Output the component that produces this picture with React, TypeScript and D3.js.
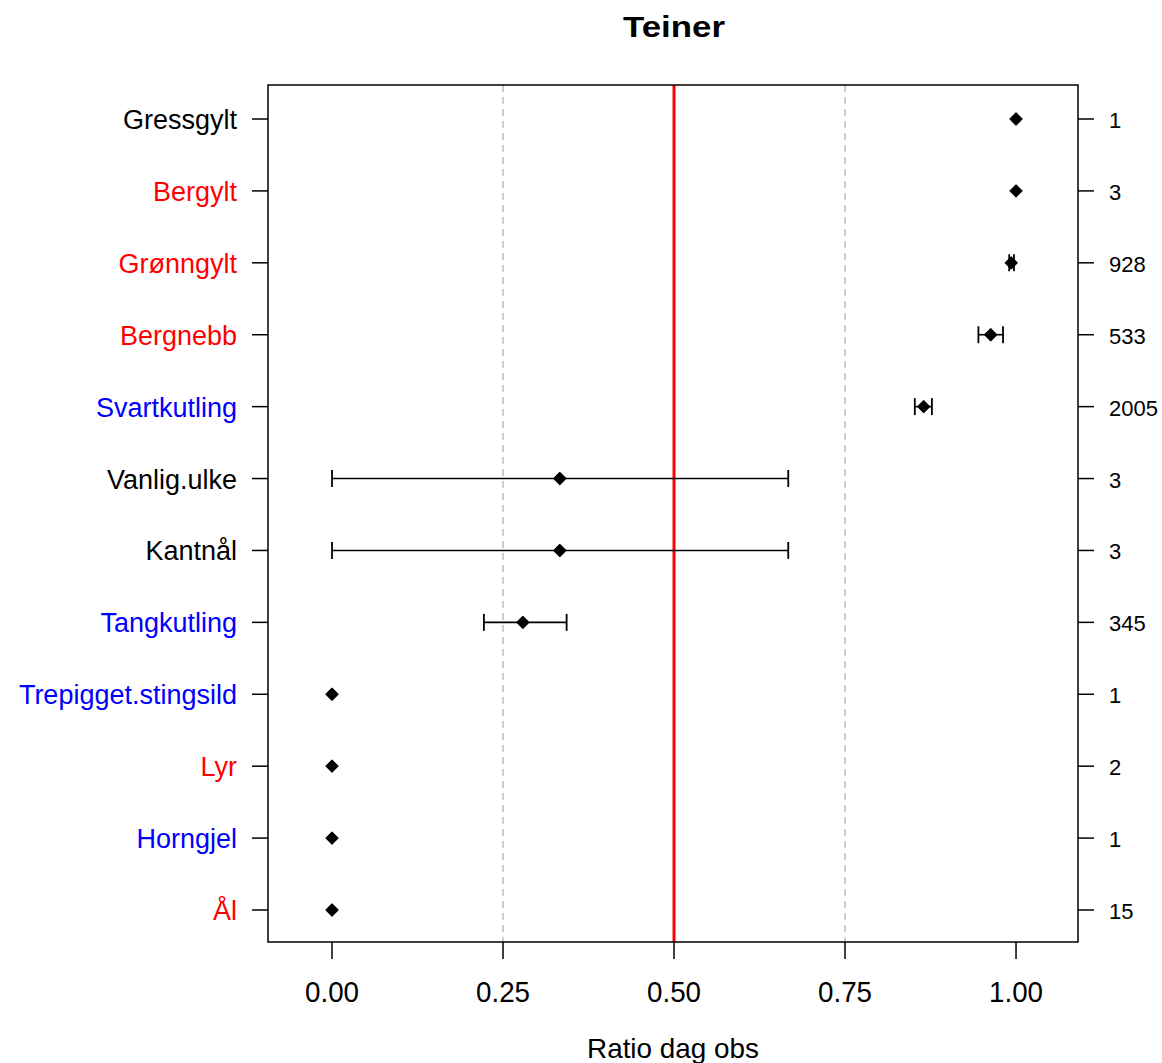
import { useEffect, useRef } from 'react';
import * as d3 from 'd3';

// species from top to bottom
const species = ['Gressgylt', 'Bergylt', 'Grønngylt', 'Bergnebb', 'Svartkutling', 'Vanlig.ulke', 'Kantnål', 'Tangkutling', 'Trepigget.stingsild', 'Lyr', 'Horngjel', 'Ål'];
const labelColors = ['black', 'red', 'red', 'red', 'blue', 'black', 'black', 'blue', 'blue', 'red', 'blue', 'red'];
const ratio = [1.0, 1.0, 0.993, 0.963, 0.865, 0.333, 0.333, 0.279, 0, 0, 0, 0];
const lower = [1.0, 1.0, 0.990, 0.945, 0.852, 0, 0, 0.222, 0, 0, 0, 0];
const upper = [1.0, 1.0, 0.997, 0.981, 0.877, 0.667, 0.667, 0.343, 0, 0, 0, 0];
const counts = ['1', '3', '928', '533', '2005', '3', '3', '345', '1', '2', '1', '15'];
const xTicks = [0, 0.25, 0.5, 0.75, 1.0];

const App = () => {
    const ref = useRef<SVGSVGElement | null>(null);

    useEffect(() => {
        const svg = d3.select(ref.current);
        svg.selectAll('*').remove();

        const left = 268, right = 1078, top = 85, bottom = 942;
        const x = d3.scaleLinear().domain([-0.0936, 1.0906]).range([left, right]);
        const y = d3.scalePoint<string>().domain(species).range([119, 910]);
        const font = 'Liberation Sans, Arial, sans-serif';

        svg.append('text')
            .attr('x', 674).attr('y', 37)
            .attr('text-anchor', 'middle')
            .attr('font-family', font).attr('font-weight', 'bold').attr('font-size', 29)
            .attr('textLength', 102).attr('lengthAdjust', 'spacingAndGlyphs')
            .text('Teiner');

        // grid lines
        svg.selectAll('.grid')
            .data([0.25, 0.75])
            .enter().append('line')
            .attr('x1', d => x(d)).attr('x2', d => x(d))
            .attr('y1', top).attr('y2', bottom)
            .attr('stroke', '#bebebe').attr('stroke-width', 1.5)
            .attr('stroke-dasharray', '7,5');

        svg.append('line')
            .attr('x1', x(0.5)).attr('x2', x(0.5))
            .attr('y1', top).attr('y2', bottom)
            .attr('stroke', 'red').attr('stroke-width', 3);

        svg.append('rect')
            .attr('x', left).attr('y', top)
            .attr('width', right - left).attr('height', bottom - top)
            .attr('fill', 'none').attr('stroke', 'black').attr('stroke-width', 1.5);

        // bottom axis
        const xAxis = svg.append('g').attr('transform', `translate(0,${bottom})`);
        xAxis.selectAll('line')
            .data(xTicks).enter().append('line')
            .attr('x1', d => x(d)).attr('x2', d => x(d))
            .attr('y1', 0).attr('y2', 17)
            .attr('stroke', 'black').attr('stroke-width', 1.5);
        xAxis.selectAll('text')
            .data(xTicks).enter().append('text')
            .attr('x', d => x(d)).attr('y', 60)
            .attr('text-anchor', 'middle')
            .attr('font-family', font).attr('font-size', 30)
            .attr('textLength', 54).attr('lengthAdjust', 'spacingAndGlyphs')
            .text(d => d3.format('.2f')(d));

        svg.append('text')
            .attr('x', 673).attr('y', 1058)
            .attr('text-anchor', 'middle')
            .attr('font-family', font).attr('font-size', 28)
            .attr('textLength', 172).attr('lengthAdjust', 'spacingAndGlyphs')
            .text('Ratio dag obs');

        // left axis
        const yAxis = svg.append('g');
        yAxis.selectAll('line')
            .data(species).enter().append('line')
            .attr('x1', left - 16).attr('x2', left)
            .attr('y1', d => y(d)!).attr('y2', d => y(d)!)
            .attr('stroke', 'black').attr('stroke-width', 1.5);
        yAxis.selectAll('text')
            .data(species).enter().append('text')
            .attr('x', 237).attr('y', d => y(d)! + 10)
            .attr('text-anchor', 'end')
            .attr('font-family', font).attr('font-size', 27)
            .attr('fill', (d, i) => labelColors[i])
            .text(d => d);

        // right axis
        const rAxis = svg.append('g');
        rAxis.selectAll('line')
            .data(species).enter().append('line')
            .attr('x1', right).attr('x2', right + 16)
            .attr('y1', d => y(d)!).attr('y2', d => y(d)!)
            .attr('stroke', 'black').attr('stroke-width', 1.5);
        rAxis.selectAll('text')
            .data(species).enter().append('text')
            .attr('x', 1109).attr('y', d => y(d)! + 9)
            .attr('font-family', font).attr('font-size', 22)
            .text((d, i) => counts[i]);

        // error bars and points
        const g = svg.append('g');
        species.forEach((s, i) => {
            const yy = y(s)!;
            if (upper[i] > lower[i]) {
                g.append('line')
                    .attr('x1', x(lower[i])).attr('x2', x(upper[i]))
                    .attr('y1', yy).attr('y2', yy)
                    .attr('stroke', 'black').attr('stroke-width', 1.6);
                [lower[i], upper[i]].forEach(v => {
                    g.append('line')
                        .attr('x1', x(v)).attr('x2', x(v))
                        .attr('y1', yy - 8.5).attr('y2', yy + 8.5)
                        .attr('stroke', 'black').attr('stroke-width', 1.8);
                });
            }
            const cx = x(ratio[i]), r = 6;
            g.append('path')
                .attr('d', `M${cx},${yy - r}L${cx + r},${yy}L${cx},${yy + r}L${cx - r},${yy}Z`)
                .attr('fill', 'black')
                .attr('stroke', 'black').attr('stroke-width', 1.2).attr('stroke-linejoin', 'round');
        });

        return () => {
            svg.selectAll('*').remove();
        };
    }, []);

    return (
        <svg ref={ref} width={1162} height={1063} style={{ position: 'absolute', left: 0, top: 0 }} />
    );
};

export default App;
